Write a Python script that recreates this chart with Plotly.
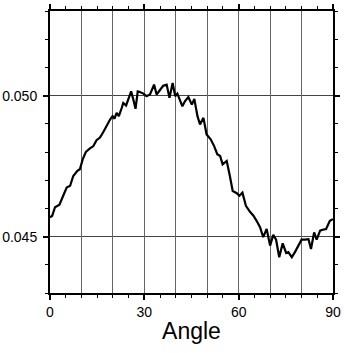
import plotly.graph_objects as go

angle = [0, 0.7, 1.6, 3.0, 4.2, 5.3, 6.4, 7.4, 8.7, 9.5, 10.4, 11.4, 12.7, 13.8, 14.8,
         15.9, 17.0, 18.2, 19.1, 19.9, 20.5, 21.2, 21.9, 22.8, 23.3, 24.2, 24.9, 25.8,
         26.5, 27.2, 27.9, 28.6, 29.7, 30.7, 31.8, 33.1, 33.9, 35.0, 36.0, 37.1, 38.0,
         39.0, 39.8, 40.5, 41.3, 42.1, 42.9, 44.0, 45.1, 45.9, 46.9, 47.7, 48.8, 49.8,
         51.1, 52.2, 53.2, 54.1, 54.9, 56.2, 57.2, 58.1, 59.4, 60.2, 61.2, 62.3, 63.6,
         64.7, 65.7, 66.8, 67.8, 68.9, 70.0, 71.0, 71.9, 72.9, 74.0, 75.1, 75.8, 76.9,
         77.9, 79.0, 80.0, 81.1, 82.2, 83.0, 84.0, 84.8, 85.9, 86.9, 87.8, 89.0, 90.0]
value = [0.04568, 0.04574, 0.04604, 0.04613, 0.04645, 0.04674, 0.04680, 0.04715, 0.04733,
         0.04739, 0.04774, 0.04800, 0.04813, 0.04821, 0.04842, 0.04851, 0.04872, 0.04898,
         0.04915, 0.04927, 0.04918, 0.04939, 0.04927, 0.04956, 0.04974, 0.04965, 0.04986,
         0.05015, 0.04986, 0.04953, 0.05015, 0.05013, 0.05007, 0.04998, 0.05004, 0.05039,
         0.05004, 0.05021, 0.05035, 0.05039, 0.04992, 0.05045, 0.04998, 0.05007, 0.04986,
         0.04962, 0.04980, 0.04995, 0.04968, 0.04988, 0.04927, 0.04898, 0.04921, 0.04862,
         0.04845, 0.04821, 0.04792, 0.04786, 0.04756, 0.04768, 0.04715, 0.04662, 0.04654,
         0.04645, 0.04656, 0.04609, 0.04588, 0.04574, 0.04556, 0.04533, 0.04498, 0.04527,
         0.04468, 0.04506, 0.04489, 0.04427, 0.04476, 0.04442, 0.04445, 0.04427, 0.04445,
         0.04468, 0.04489, 0.04489, 0.04491, 0.04456, 0.04515, 0.04489, 0.04521, 0.04525,
         0.04527, 0.04556, 0.04562]

font = "Liberation Sans, Arial, Helvetica, sans-serif"

fig = go.Figure()
# invisible copy on the overlay axis so its 10-degree grid is drawn
fig.add_trace(go.Scatter(x=angle, y=value, xaxis="x2", mode="lines",
                         line=dict(color="rgba(0,0,0,0)", width=0),
                         hoverinfo="skip", showlegend=False))
fig.add_trace(go.Scatter(x=angle, y=value, mode="lines",
                         line=dict(color="black", width=2.2), showlegend=False))

fig.update_layout(
    width=344, height=353,
    margin=dict(l=50, r=11, t=11, b=60, autoexpand=False),
    paper_bgcolor="white", plot_bgcolor="white",
    font=dict(family=font, color="black", size=14),
    xaxis=dict(
        range=[0, 90], tickmode="linear", tick0=0, dtick=30,
        ticks="outside", ticklen=5, tickwidth=1.5, tickcolor="black",
        showline=True, linecolor="black", linewidth=2, mirror="ticks",
        showgrid=False, zeroline=False, automargin=False,
        minor=dict(dtick=5, tick0=0, ticks="outside", ticklen=3, tickwidth=1,
                   tickcolor="black", showgrid=False),
        title=dict(text="Angle", font=dict(size=23, family=font), standoff=4),
        tickfont=dict(size=14),
    ),
    xaxis2=dict(
        overlaying="x", range=[0, 90], tickmode="linear", tick0=0, dtick=10,
        showgrid=True, gridcolor="#666", gridwidth=1.3, automargin=False,
        showticklabels=False, ticks="", showline=False, zeroline=False,
    ),
    yaxis=dict(
        range=[0.043, 0.053], tickmode="linear", tick0=0.045, dtick=0.005,
        tickformat=".3f", automargin=False, ticklabelstandoff=3,
        ticks="outside", ticklen=5, tickwidth=1.5, tickcolor="black",
        showline=True, linecolor="black", linewidth=2, mirror="ticks",
        showgrid=True, gridcolor="#444", gridwidth=1.3, zeroline=False,
        minor=dict(dtick=0.001, tick0=0.045, ticks="outside", ticklen=3,
                   tickwidth=1, tickcolor="black", showgrid=False),
        tickfont=dict(size=14),
    ),
)

fig.write_html("out.html")
